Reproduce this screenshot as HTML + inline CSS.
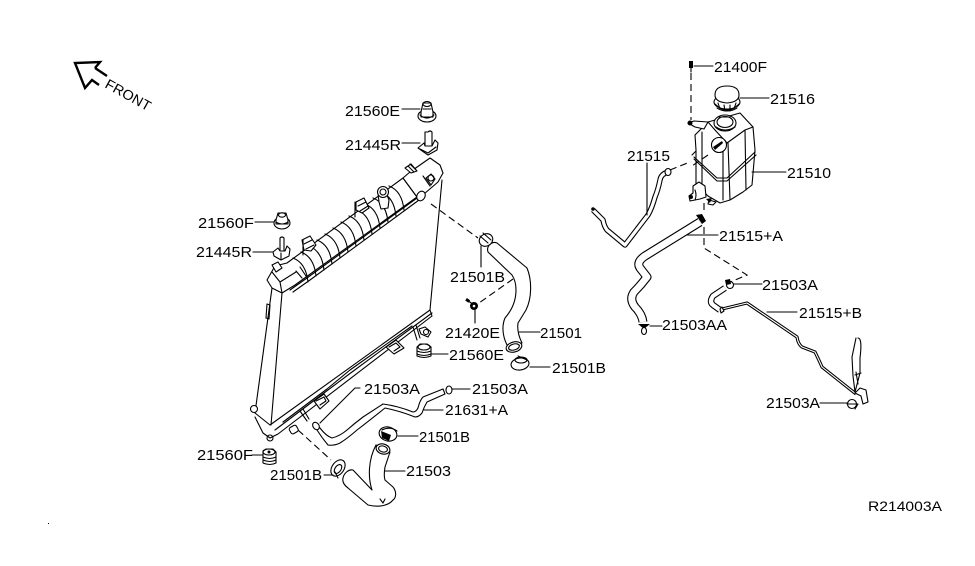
<!DOCTYPE html>
<html><head><meta charset="utf-8"><style>
html,body{margin:0;padding:0;background:#fff}
svg{display:block}
text{font-family:"Liberation Sans",sans-serif;font-size:15px;fill:#000}
.l{fill:none;stroke:#000;stroke-width:1.1;stroke-linejoin:round;stroke-linecap:round}
.w{fill:#fff;stroke:#000;stroke-width:1.1;stroke-linejoin:round}
.d{fill:none;stroke:#000;stroke-width:1.1;stroke-dasharray:7 4}
.k{fill:#000;stroke:none}
</style></head><body>
<svg width="975" height="566" viewBox="0 0 975 566" xmlns="http://www.w3.org/2000/svg">
<rect width="975" height="566" fill="#fff"/>
<rect x="48" y="523" width="1" height="1" fill="#000"/>

<!-- FRONT arrow -->
<path d="M95 68L100 62L75 63L85 88L92 80L99 85M95 68L107 76" fill="none" stroke="#000" stroke-width="2.4"/>
<text transform="translate(104 87) rotate(29)" textLength="50" lengthAdjust="spacingAndGlyphs" style="font-size:14px">FRONT</text>

<!-- Radiator -->
<path class="l" d="M442 180L430 310M272 288L255 413M282 293L271 425"/>
<path class="l" d="M255 417L263 433L270 438L278 434L432 316L430 310L270 425L255 413"/>
<path class="l" d="M275 430L320 396L352 372L432 313M283 422L327 389L350 370L412 326"/>
<circle class="w" cx="254" cy="409" r="3.5"/>
<circle class="l" cx="270" cy="438" r="3"/>
<path class="l" d="M267 304L266 318L269 319L270 305Z"/>
<!-- top tank -->
<path class="w" d="M267 280L275 266L287 263L403 178L417 197L295 285L282 293L272 288Z"/>
<path class="l" d="M290 290L307 278L417 198M293 292L310 280L419 200M272 272L280 282L282 293M280 282L296 272"/>
<path class="l" d="M293 258q13 5 15 24m-7 -30q13 5 15 24m-7 -30q13 5 15 24m-7 -30q13 5 15 24m-7 -30q13 5 15 24m-7 -30q13 5 15 24m-7 -30q13 5 15 24m-7 -30q13 5 15 24m-7 -30q13 5 15 24m-7 -30q13 5 15 24m-7 -30q13 5 15 24m-7 -30q13 5 15 24m-7 -30q13 5 15 24"/>
<path class="w" d="M403 178L410 172L430 158L440 165L443 173L438 182L424 194L417 197Z"/>
<ellipse class="w" cx="421" cy="196" rx="4" ry="5" transform="rotate(30 421 196)"/>
<!-- tank brackets and filler -->
<path class="w" d="M302 240L310 236L316 245L311 251L304 250Z"/>
<path class="l" d="M304 244L312 240M306 249L314 245M303 240V255"/>
<path class="w" d="M356 202L364 198L369 208L362 213L356 210Z"/>
<path class="l" d="M358 206L366 202M360 211L368 206M355 202V217"/>
<path class="w" d="M378 193L385 190L389 200L388 208L381 209L379 202Z"/>
<circle class="w" cx="383" cy="192" r="5.5"/><circle class="l" cx="383" cy="192" r="3"/>
<path class="w" d="M405 168L411 164L417 171L411 173Z"/>
<path class="l" d="M408 166L414 172M410 164L416 170"/>
<path class="w" d="M426 178L431 174L435 179L431 185Z"/>
<circle class="l" cx="431" cy="178" r="3"/><path class="l" d="M423 176L430 186"/>
<path class="w" d="M272 265L278 262L282 268L276 272Z"/>
<path class="l" d="M296 271L302 278M300 267L306 276"/>
<!-- bottom brackets -->
<path class="w" d="M386 347L396 340L404 348L394 354Z"/><path class="l" d="M389 347L396 343L400 347L394 351"/>
<path class="w" d="M314 401L324 394L329 401L320 409Z"/><path class="l" d="M316 401L324 397L326 401L320 405"/>
<path class="l" d="M300 411L307 421M303 409L309 419M413 327L417 340M416 325L420 338"/>
<path class="w" d="M419 329L425 327L431 332L428 337L421 334Z"/><circle class="l" cx="426" cy="332" r="2.5"/>
<rect class="w" x="290" y="426" width="8" height="7" rx="2" transform="rotate(-30 294 430)"/>

<!-- hose 21501 -->
<path class="w" d="M488 252C486 246 492 241 497 243L527 268C532 280 532 298 526 310L518 323C517 330 519 337 522 343L507 345C502 335 502 325 505 318C512 310 516 300 516 290C516 282 514 278 512 275Z"/>
<ellipse class="w" cx="514" cy="347" rx="8" ry="5" transform="rotate(-15 514 347)"/>
<ellipse class="l" cx="514" cy="347" rx="5.5" ry="3" transform="rotate(-15 514 347)"/>
<ellipse class="w" cx="486" cy="240" rx="7" ry="6" transform="rotate(-30 486 240)"/>
<path class="l" d="M480 236L488 243M483 233L491 240M481 246V250"/>
<ellipse class="w" cx="520" cy="364" rx="9" ry="6" transform="rotate(-8 520 364)"/>
<ellipse class="l" cx="521" cy="360" rx="6" ry="3"/>
<path class="l" d="M518 356L527 360"/>
<path class="l" d="M530 367H550M481 250V267"/>
<path class="d" d="M431 204L478 238M513 279L479 303"/>
<!-- bolt 21420E -->
<path class="l" d="M467 300L474 305M475 310V323"/>
<circle class="k" cx="474" cy="306" r="4"/><circle cx="474" cy="306" r="1.3" fill="#fff"/>
<rect class="k" x="466" y="299" width="4" height="3" transform="rotate(35 468 300)"/>
<path class="l" d="M519 332H540"/>

<!-- 21503 hose -->
<path class="w" d="M376 445L383 448L390 452L385 467C384 473 384 477 385 480L393 487C397 492 396 498 393 500C389 505 380 508 368 505L348 488C344 485 342 482 343 478C344 473 349 469 353 470L372 490C368 478 368 460 376 445Z"/>
<ellipse class="w" cx="383" cy="449" rx="7" ry="5" transform="rotate(15 383 449)"/>
<ellipse class="l" cx="383" cy="449" rx="4.5" ry="3" transform="rotate(15 383 449)"/>
<path class="l" d="M380 499L383 503L385 499"/>
<ellipse class="w" cx="388" cy="434" rx="9" ry="7" transform="rotate(15 388 434)"/>
<path class="k" d="M381 431L391 435L389 441L382 438Z"/><path class="l" d="M382 430Q390 426 397 431"/>
<path class="l" d="M398 436H418M385 471H405"/>
<ellipse class="w" cx="338" cy="468" rx="6" ry="9" transform="rotate(35 338 468)"/>
<ellipse class="l" cx="338" cy="469" rx="3" ry="5" transform="rotate(35 338 469)"/>
<path class="l" d="M324 475H333M335 472L338 478"/>
<path class="d" d="M298 430L331 460"/>

<!-- 21631+A pipe -->
<path class="w" d="M316 425L320 428Q326 436 332 438Q340 436 347 430Q355 423 363 417L383 404Q398 406 413 412Q416 412 418 408Q420 400 423 397L443 389L445 394L427 402Q424 407 422 413Q419 417 415 417Q400 411 385 408Q370 420 357 430Q348 438 340 443Q334 446 328 445Q322 438 317 430Z"/>
<ellipse class="w" cx="316" cy="426" rx="3" ry="4" transform="rotate(-35 316 426)"/>
<ellipse class="w" cx="449" cy="390" rx="3" ry="4"/>
<path class="l" d="M452 389H470M424 410H443M360 388H355L320 423"/>

<!-- Grommets and studs, left -->
<path class="l" d="M402 109H420M402 143H420M255 222H275M253 252H273M252 455H262M428 354H448"/>
<ellipse class="w" cx="427" cy="116" rx="9" ry="6"/><path class="w" d="M421 112L423 103H431L433 112L433 117H421Z"/><ellipse class="l" cx="427" cy="104" rx="4" ry="2.5"/><path class="l" d="M420 115Q427 121 434 115M423 109H431"/>
<ellipse class="w" cx="282" cy="223" rx="8" ry="6"/><path class="w" d="M276 220L278 213H286L288 220L288 224H276Z"/><ellipse class="l" cx="282" cy="215" rx="3.5" ry="2.2"/><path class="l" d="M276 222Q282 226 288 222"/>
<path class="w" d="M428 132Q430 130 432 132V146H425V132Z"/><path class="w" d="M418 148L424 143L425 146L432 146L435 140L438 143L437 150L428 155Z"/><path class="l" d="M420 149L428 153L436 147"/>
<path class="w" d="M280 238Q282 236 284 238V252H280Z"/><path class="w" d="M273 252L278 248L280 251H285L287 246L290 249L289 256L281 260L274 256Z"/><path class="l" d="M281 253V260"/>
<path class="w" d="M263 451L266 449H273L276 452V463Q270 466 263 463Z"/><ellipse class="l" cx="269" cy="452" rx="6" ry="3"/><path class="l" d="M263 457Q270 460 276 457M263 460Q270 463 276 460"/><circle class="k" cx="269" cy="452" r="1.5"/>
<path class="w" d="M417 347L420 344H427L431 347V356Q424 359 417 356Z"/><ellipse class="l" cx="424" cy="347" rx="6" ry="3"/><path class="l" d="M417 351Q424 354 431 351M417 354Q424 357 431 354"/>

<!-- Reservoir tank -->
<path class="w" d="M695 135L708 122L740 113L753 127L755 150L752 185L743 192L730 200L720 203L708 196L696 184L696 150Z"/>
<path class="l" d="M708 122L715 130L727 143L745 130L753 127M728 143L730 200M723 147L723 200M694 157L717 178L727 178L755 152M694 159L717 181L727 181L756 155M745 130L746 190M702 132L702 190M692 155L696 151"/>
<ellipse class="w" cx="725" cy="123" rx="11" ry="8"/><ellipse class="l" cx="725" cy="122" rx="8" ry="5.5"/><path class="l" d="M716 127Q725 133 735 127M719 117L730 117"/>
<circle class="w" cx="719" cy="145" r="7.5"/><path class="k" d="M713 147L722 141L723 143L715 150Z"/>
<path class="w" d="M688 123L694 121L708 122L704 129L695 127Z"/><circle class="k" cx="690" cy="123" r="2.5"/>
<path class="w" d="M693 186L699 182L705 186L706 197L700 199L690 201L689 196L693 193Z"/><path class="l" d="M695 190Q697 195 695 200"/><circle class="k" cx="691" cy="197" r="2"/>
<path class="w" d="M709 200L716 202L713 205L708 204Z"/>
<path class="k" d="M706 199L712 198L710 203Z"/>
<!-- cap -->
<ellipse class="w" cx="727" cy="102" rx="13" ry="7"/><path class="l" d="M715 104Q727 116 739 104M717 108Q727 114 737 108"/>
<path class="w" d="M715 95Q715 86 727 86Q739 86 739 95Q739 102 727 103Q715 102 715 95Z"/><path class="l" d="M718 103L720 109M724 105L725 111M730 105L730 111M736 103L734 109"/>
<path class="l" d="M740 98H769M752 172H786"/>
<path class="l" d="M694 66H713"/>
<rect class="k" x="689" y="61" width="4" height="7"/>
<path class="l" d="M691 68V72"/>
<path class="d" d="M691 73V120M670 170L690 162M708 155L692 166M704 203L704 214"/>

<!-- hoses -->
<g fill="none" stroke-linejoin="round" stroke-linecap="butt">
<path stroke="#000" stroke-width="5.4" d="M668 172Q661 174 660 180Q658 190 655 197Q652 208 648 215L625 245L607 230Q604 226 603 220L593 210"/>
<path stroke="#fff" stroke-width="3.2" d="M668 172Q661 174 660 180Q658 190 655 197Q652 208 648 215L625 245L607 230Q604 226 603 220L593 210"/>
<path stroke="#000" stroke-width="9" d="M700 222L645 256Q636 262 640 268L647 277Q641 285 634 292Q629 299 635 307Q642 314 643 322"/>
<path stroke="#fff" stroke-width="6.8" d="M700 222L645 256Q636 262 640 268L647 277Q641 285 634 292Q629 299 635 307Q642 314 643 322"/>
<path stroke="#000" stroke-width="6.4" d="M725 288L713 296Q709 302 713 305L720 310"/>
<path stroke="#fff" stroke-width="4.2" d="M725 288L713 296Q709 302 713 305L720 310"/>
<path stroke="#000" stroke-width="3.2" d="M722 309L747 303L797 337Q798 344 802 347L815 352Q818 358 822 367L856 394"/>
<path stroke="#fff" stroke-width="1.1" d="M722 309L747 303L797 337Q798 344 802 347L815 352Q818 358 822 367L856 394"/>
</g>
<path class="l" d="M647 163V215M687 235H718M733 284H762M767 312H797M650 326H662M820 403H848"/>
<ellipse class="w" cx="668" cy="172" rx="3" ry="3.5"/><circle class="k" cx="593" cy="209" r="1.8"/>
<!-- clamps right -->
<path class="k" d="M696 215L702 214L706 221L702 224Z"/>
<path class="k" d="M638 324L650 324L644 329Z"/><ellipse class="w" cx="644" cy="331" rx="2.5" ry="3.5"/>
<circle class="w" cx="730" cy="285" r="3.5"/><path class="k" d="M725 280L730 279L731 284L726 285Z"/>
<path class="w" d="M720 309L722 307L724 311L721 313Z"/>
<circle class="w" cx="852" cy="404" r="4.5"/><path class="l" d="M847 404H858L855 409"/>
<!-- bracket on 21515+B -->
<path class="l" d="M858 338C862 338 861 350 860 358L860 373L855 392M856 338L852 357L853 376L855 392M855 375L861 373M856 372L858 384"/>
<path class="w" d="M855 393L860 388L866 390L868 402L863 404L861 396Z"/>
<path class="d" d="M704 227V248L747 275L728 283"/>

<!-- Labels -->
<text x="345" y="116" textLength="55" lengthAdjust="spacingAndGlyphs">21560E</text>
<text x="345" y="150" textLength="56" lengthAdjust="spacingAndGlyphs">21445R</text>
<text x="198" y="228" textLength="56" lengthAdjust="spacingAndGlyphs">21560F</text>
<text x="196" y="257" textLength="56" lengthAdjust="spacingAndGlyphs">21445R</text>
<text x="450" y="282" textLength="55" lengthAdjust="spacingAndGlyphs">21501B</text>
<text x="445" y="338" textLength="55" lengthAdjust="spacingAndGlyphs">21420E</text>
<text x="540" y="338" textLength="42" lengthAdjust="spacingAndGlyphs">21501</text>
<text x="449" y="360" textLength="55" lengthAdjust="spacingAndGlyphs">21560E</text>
<text x="552" y="373" textLength="54" lengthAdjust="spacingAndGlyphs">21501B</text>
<text x="364" y="394" textLength="56" lengthAdjust="spacingAndGlyphs">21503A</text>
<text x="472" y="394" textLength="56" lengthAdjust="spacingAndGlyphs">21503A</text>
<text x="445" y="415" textLength="63" lengthAdjust="spacingAndGlyphs">21631+A</text>
<text x="419" y="442" textLength="51" lengthAdjust="spacingAndGlyphs">21501B</text>
<text x="406" y="476" textLength="45" lengthAdjust="spacingAndGlyphs">21503</text>
<text x="197" y="460" textLength="56" lengthAdjust="spacingAndGlyphs">21560F</text>
<text x="270" y="480" textLength="52" lengthAdjust="spacingAndGlyphs">21501B</text>
<text x="714" y="72" textLength="53" lengthAdjust="spacingAndGlyphs">21400F</text>
<text x="770" y="104" textLength="45" lengthAdjust="spacingAndGlyphs">21516</text>
<text x="627" y="161" textLength="43" lengthAdjust="spacingAndGlyphs">21515</text>
<text x="787" y="178" textLength="44" lengthAdjust="spacingAndGlyphs">21510</text>
<text x="719" y="241" textLength="64" lengthAdjust="spacingAndGlyphs">21515+A</text>
<text x="762" y="290" textLength="56" lengthAdjust="spacingAndGlyphs">21503A</text>
<text x="799" y="318" textLength="63" lengthAdjust="spacingAndGlyphs">21515+B</text>
<text x="662" y="330" textLength="65" lengthAdjust="spacingAndGlyphs">21503AA</text>
<text x="766" y="408" textLength="54" lengthAdjust="spacingAndGlyphs">21503A</text>
<text x="868" y="511" textLength="74" lengthAdjust="spacingAndGlyphs" style="font-size:14px">R214003A</text>
</svg>
</body></html>
